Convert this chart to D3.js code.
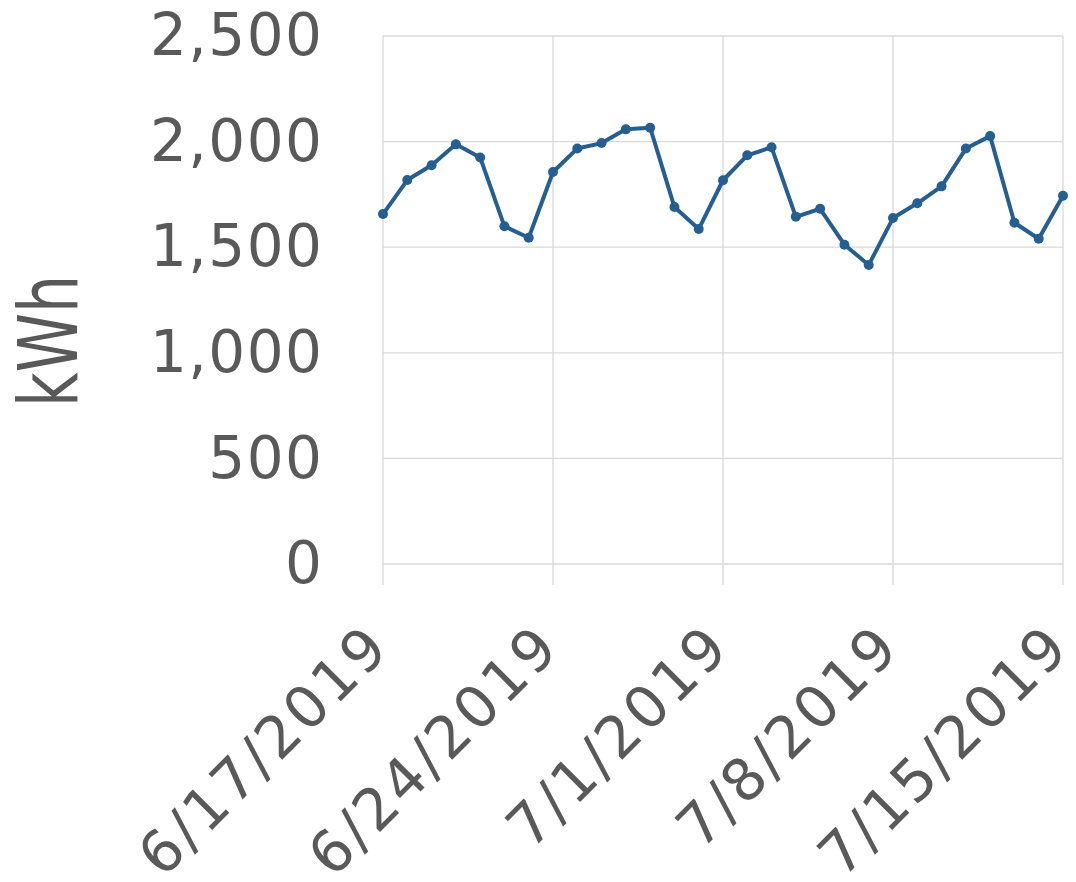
<!DOCTYPE html>
<html>
<head>
<meta charset="utf-8">
<script src="https://cdn.jsdelivr.net/npm/d3@7"></script>
<style>
  html, body { margin: 0; padding: 0; background: #fff; }
  svg { display: block; }
</style>
</head>
<body>
<svg id="chart" width="1076" height="882"></svg>
<script>
const dates = [
  "2019-06-17","2019-06-18","2019-06-19","2019-06-20","2019-06-21","2019-06-22","2019-06-23",
  "2019-06-24","2019-06-25","2019-06-26","2019-06-27","2019-06-28","2019-06-29","2019-06-30",
  "2019-07-01","2019-07-02","2019-07-03","2019-07-04","2019-07-05","2019-07-06","2019-07-07",
  "2019-07-08","2019-07-09","2019-07-10","2019-07-11","2019-07-12","2019-07-13","2019-07-14",
  "2019-07-15"
];
const kwh = [
  1657, 1818, 1888, 1987, 1925, 1599, 1545,
  1856, 1967, 1993, 2058, 2066, 1690, 1586,
  1817, 1935, 1973, 1644, 1682, 1512, 1416,
  1638, 1708, 1788, 1967, 2026, 1616, 1540,
  1744
];
const yTicks = [0, 500, 1000, 1500, 2000, 2500];
const xTickDates = ["2019-06-17","2019-06-24","2019-07-01","2019-07-08","2019-07-15"];
const yTitle = "kWh";

(function () {
const parse = d3.timeParse("%Y-%m-%d");
const fmtDate = d3.timeFormat("%-m/%-d/%Y");
const fmtNum = d3.format(",");

const data = dates.map((d, i) => ({ date: parse(d), value: kwh[i] }));

const svg = d3.select("#chart");
const pLeft = 383, pRight = 1063, pTop = 36, pBottom = 564;
const gridColor = "#d9d9d9";
const textColor = "#595959";
const lineColor = "#255e91";
const font = "'DejaVu Sans', Verdana, sans-serif";

const x = d3.scaleTime()
  .domain([parse(dates[0]), parse(dates[dates.length - 1])])
  .range([pLeft, pRight]);
const y = d3.scaleLinear().domain([0, 2500]).range([pBottom, pTop]);

// horizontal gridlines
svg.append("g").selectAll("line").data(yTicks).join("line")
  .attr("x1", pLeft).attr("x2", pRight)
  .attr("y1", d => y(d)).attr("y2", d => y(d))
  .attr("stroke", gridColor).attr("stroke-width", 1.3);

// vertical gridlines + ticks below axis
const xt = xTickDates.map(parse);
svg.append("g").selectAll("line").data(xt).join("line")
  .attr("x1", d => x(d)).attr("x2", d => x(d))
  .attr("y1", pTop).attr("y2", pBottom + 21)
  .attr("stroke", gridColor).attr("stroke-width", 1.3);

// y tick labels
svg.append("g").selectAll("text").data(yTicks).join("text")
  .attr("x", 323.5).attr("y", d => y(d))
  .attr("dy", "0.33em")
  .attr("text-anchor", "end")
  .attr("font-family", font).attr("font-size", 58)
  .attr("letter-spacing", 1.5)
  .attr("fill", textColor)
  .text(d => fmtNum(d));

// x tick labels rotated
svg.append("g").selectAll("text").data(xt).join("text")
  .attr("text-anchor", "end")
  .attr("transform", d => `translate(${x(d) + 7},${652}) rotate(-45) translate(3,0)`)
  .attr("font-family", font).attr("font-size", 58)
  .attr("letter-spacing", 3)
  .attr("fill", textColor)
  .text(d => fmtDate(d));

// y title
svg.append("text")
  .attr("transform", `translate(77,341) rotate(-90) scale(1,1.36)`)
  .attr("text-anchor", "middle")
  .attr("font-family", font).attr("font-size", 60)
  .attr("fill", textColor)
  .text(yTitle);

// line
const line = d3.line().x(d => x(d.date)).y(d => y(d.value));
svg.append("path").datum(data)
  .attr("d", line)
  .attr("fill", "none")
  .attr("stroke", lineColor)
  .attr("stroke-width", 4)
  .attr("stroke-linejoin", "round");

svg.append("g").selectAll("circle").data(data).join("circle")
  .attr("cx", d => x(d.date)).attr("cy", d => y(d.value))
  .attr("r", 5)
  .attr("fill", lineColor);
})();
</script>
</body>
</html>
